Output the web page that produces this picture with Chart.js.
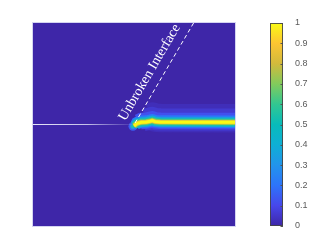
<!DOCTYPE html>
<html>
<head>
<meta charset="utf-8">
<script src="https://cdn.jsdelivr.net/npm/chart.js@4"></script>
<style>
  html, body { margin: 0; padding: 0; background: #fff; }
  #wrap { position: relative; width: 332px; height: 249px; }
  canvas { position: absolute; top: 0; }
  #field { left: 0; }
  #bar { left: 250px; }
</style>
</head>
<body>
<div id="wrap">
  <canvas id="field" width="332" height="249"></canvas>
  <canvas id="bar" width="82" height="249"></canvas>
</div>
<script>
// pre-existing crack (white line on the left)
const crackX = [0, 0.49];
const crackY = [0.5, 0.5];

// centre line of the damage band
const bandX = [0.5, 0.515, 0.535, 0.56, 0.58, 0.59, 0.605, 0.63, 1.0];
const bandY = [0.493, 0.505, 0.511, 0.512, 0.516, 0.519, 0.514, 0.512, 0.511];

// damage levels across the band: where each starts, how far it reaches above / below the centre line
const levelValues = [0.025, 0.06, 0.12, 0.22, 0.38, 0.55, 0.7, 0.88, 1.0];
const levelStart = [0.58, 0.55, 0.525, 0.512, 0.505, 0.5, 0.5, 0.5, 0.5];
const levelUpper = [0.09, 0.068, 0.047, 0.033, 0.025, 0.019, 0.014, 0.01, 0.007];
const levelLower = [0.05, 0.042, 0.034, 0.028, 0.023, 0.018, 0.013, 0.01, 0.007];

// glow around the crack tip
const tipX = [0.495];
const tipY = [0.491];
const tipValues = [0.15, 0.3, 0.55];

// dashed line marking the unbroken interface
const interfaceX = [0.505, 0.795];
const interfaceY = [0.507, 1.0];
const interfaceLabel = "Unbroken Interface";

// colorbar
const barRange = [0, 1];
const barTicks = [0, 0.1, 0.2, 0.3, 0.4, 0.5, 0.6, 0.7, 0.8, 0.9, 1];

// parula, sampled every 0.1
const parula = [
  [62, 38, 168], [71, 71, 235], [45, 116, 250], [34, 148, 235], [14, 175, 213],
  [8, 187, 186], [50, 199, 145], [130, 203, 92], [210, 186, 60], [252, 197, 50],
  [249, 251, 20]
];

function parulaColor(v) {
  const t = Math.max(0, Math.min(1, v)) * (parula.length - 1);
  const i = Math.min(Math.floor(t), parula.length - 2);
  const f = t - i;
  const c = parula[i].map((a, k) => Math.round(a + (parula[i + 1][k] - a) * f));
  return `rgb(${c[0]}, ${c[1]}, ${c[2]})`;
}

function pts(xs, ys) {
  return xs.map((x, i) => ({ x: x, y: ys[i] }));
}

// centre line from a given start on, first point taken from the next sample
function bandPath(start) {
  const k = bandX.findIndex((x) => x > start);
  const out = [{ x: start, y: bandY[Math.max(k - 1, 0)] }];
  for (let j = k; j < bandX.length; j++) out.push({ x: bandX[j], y: bandY[j] });
  return out;
}

const datasets = [];

// band: one wide line per level, weakest at the bottom
levelValues.forEach((v, i) => {
  const shift = (levelUpper[i] - levelLower[i]) / 2;
  datasets.push({
    data: bandPath(levelStart[i]).map((p) => ({ x: p.x, y: p.y + shift })),
    showLine: true,
    borderColor: parulaColor(v),
    borderWidth: (ctx) => {
      const y = ctx.chart.scales.y;
      const w = y ? Math.abs(y.getPixelForValue(0) - y.getPixelForValue(levelUpper[i] + levelLower[i])) : 1;
      return isFinite(w) ? w : 1;
    },
    borderCapStyle: "butt",
    borderJoinStyle: "round",
    pointRadius: 0,
    order: 100 - i
  });
});

// tip glow, under the band
tipValues.forEach((v, i) => {
  datasets.push({
    data: pts(tipX, tipY),
    backgroundColor: parulaColor(v),
    borderWidth: 0,
    pointRadius: [4.5, 3, 1.8][i],
    order: 200 - i
  });
});

// crack
datasets.push({
  data: pts(crackX, crackY),
  showLine: true,
  borderWidth: 1.2,
  borderColor: (ctx) => {
    const chart = ctx.chart;
    const x = chart.scales.x;
    if (!chart.chartArea || !x) return "rgba(235, 235, 250, 0.9)";
    const g = chart.ctx.createLinearGradient(x.getPixelForValue(crackX[0]), 0, x.getPixelForValue(crackX[1]), 0);
    g.addColorStop(0, "rgba(240, 240, 252, 0.95)");
    g.addColorStop(0.55, "rgba(230, 230, 248, 0.8)");
    g.addColorStop(1, "rgba(200, 200, 240, 0.1)");
    return g;
  },
  pointRadius: 0,
  order: 2
});

// interface
datasets.push({
  data: pts(interfaceX, interfaceY),
  showLine: true,
  borderWidth: 1,
  borderColor: "#ffffff",
  borderDash: [4, 3],
  pointRadius: 0,
  order: 1
});

const fieldPlugin = {
  id: "field",
  beforeDatasetsDraw(chart) {
    const { ctx, chartArea: a } = chart;
    ctx.save();
    ctx.fillStyle = parulaColor(0);
    ctx.fillRect(a.left, a.top, a.width, a.height);
    ctx.restore();
  },
  afterDatasetsDraw(chart) {
    const { ctx, chartArea: a, scales } = chart;
    const x0 = scales.x.getPixelForValue(interfaceX[0]);
    const y0 = scales.y.getPixelForValue(interfaceY[0]);
    const x1 = scales.x.getPixelForValue(interfaceX[1]);
    const y1 = scales.y.getPixelForValue(interfaceY[1]);
    const len = Math.hypot(x1 - x0, y1 - y0);
    const dx = (x1 - x0) / len, dy = (y1 - y0) / len;
    const along = 51, off = 13;
    const cx = x0 + dx * along + dy * off;
    const cy = y0 + dy * along - dx * off;
    ctx.save();
    ctx.translate(cx, cy);
    ctx.rotate(Math.atan2(dy, dx));
    ctx.fillStyle = "#ffffff";
    ctx.font = "14px 'Liberation Serif', 'Times New Roman', serif";
    ctx.textAlign = "center";
    ctx.textBaseline = "middle";
    ctx.fillText(interfaceLabel, 0, 0);
    ctx.restore();

    ctx.save();
    ctx.strokeStyle = "rgba(205, 205, 238, 0.85)";
    ctx.lineWidth = 1;
    ctx.strokeRect(a.left - 0.5, a.top - 0.5, a.width + 1, a.height + 1);
    ctx.restore();
  }
};

new Chart(document.getElementById("field"), {
  type: "scatter",
  data: { datasets: datasets },
  options: {
    responsive: false,
    animation: false,
    layout: { padding: { left: 33, right: 97, top: 23, bottom: 23 } },
    scales: {
      x: { type: "linear", min: 0, max: 1, display: false },
      y: { type: "linear", min: 0, max: 1, display: false }
    },
    plugins: { legend: { display: false }, tooltip: { enabled: false } }
  },
  plugins: [fieldPlugin]
});

const barPlugin = {
  id: "colorbarFrame",
  afterDraw(chart) {
    const { ctx, chartArea: a, scales } = chart;
    ctx.save();
    ctx.strokeStyle = "#555555";
    ctx.lineWidth = 1;
    barTicks.forEach((t) => {
      const y = Math.round(scales.y.getPixelForValue(t)) + 0.5;
      ctx.beginPath();
      ctx.moveTo(a.right - 2.5, y);
      ctx.lineTo(a.right, y);
      ctx.stroke();
    });
    ctx.strokeStyle = "rgba(70, 70, 70, 0.9)";
    ctx.strokeRect(a.left + 0.5, a.top + 0.5, a.width - 1, a.height - 1);
    ctx.restore();
  }
};

new Chart(document.getElementById("bar"), {
  type: "bar",
  data: {
    labels: [""],
    datasets: [{
      data: [barRange],
      backgroundColor: (ctx) => {
        const a = ctx.chart.chartArea;
        if (!a) return parulaColor(0.5);
        const g = ctx.chart.ctx.createLinearGradient(0, a.bottom, 0, a.top);
        parula.forEach((c, i) => g.addColorStop(i / (parula.length - 1), `rgb(${c[0]}, ${c[1]}, ${c[2]})`));
        return g;
      },
      borderWidth: 0,
      barPercentage: 1,
      categoryPercentage: 1
    }]
  },
  options: {
    responsive: false,
    animation: false,
    layout: { padding: { left: 20, right: 0, top: 23, bottom: 23 } },
    scales: {
      x: { display: false },
      y: {
        position: "right",
        min: barRange[0],
        max: barRange[1],
        afterBuildTicks: (s) => { s.ticks = barTicks.map((v) => ({ value: v })); },
        afterFit: (s) => { s.width = 49; },
        grid: { display: false },
        border: { display: false },
        ticks: {
          color: "#5a5a5a",
          padding: 4,
          font: { family: "'Liberation Sans', Arial, sans-serif", size: 9 },
          callback: (v) => String(Math.round(v * 10) / 10)
        }
      }
    },
    plugins: { legend: { display: false }, tooltip: { enabled: false } }
  },
  plugins: [barPlugin]
});
</script>
</body>
</html>
